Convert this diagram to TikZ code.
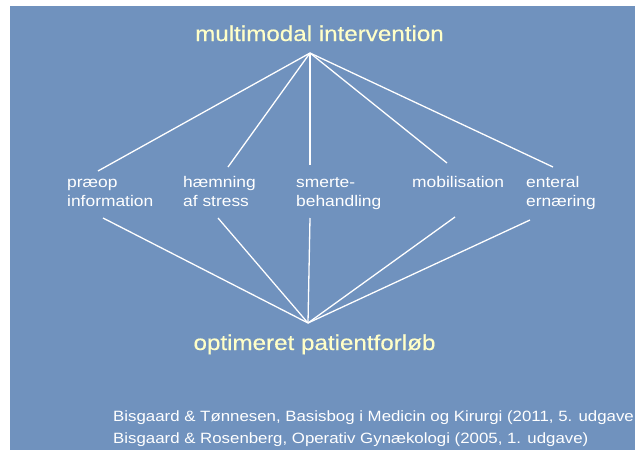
\documentclass[tikz,border=0pt]{standalone}
\usepackage{fontspec}
\setmainfont{Liberation Sans}
\newfontfamily\dfont[FakeStretch=1.13]{Liberation Sans}
\newfontfamily\hfont[FakeStretch=1.13,FakeBold=0.4]{Liberation Sans}
\definecolor{bgblue}{RGB}{112,146,190}
\definecolor{titleyellow}{RGB}{255,255,200}
\begin{document}
\begin{tikzpicture}[x=1pt,y=-1pt,
  titletext/.style={inner sep=0pt, anchor=base, text=titleyellow, font=\hfont\fontsize{21.4}{24}\selectfont},
  labeltext/.style={inner sep=0pt, anchor=north west, align=left, text=white, font=\dfont\fontsize{15.4}{19}\selectfont},
  citetext/.style={inner sep=0pt, anchor=base west, text=white, font=\dfont\fontsize{14.9}{22}\selectfont},
  link/.style={draw=white, line width=1.3pt}]
\useasboundingbox (0,0) rectangle (635,450);
\fill[white] (0,0) rectangle (635,450);
\fill[bgblue] (10,6) rectangle (635,450);
% titles
\node[titletext] (title) at (319.5,41) {multimodal intervention};
\node[titletext] (goal) at (314.5,350) {optimeret patientforløb};
% labels
\node[labeltext] (n1) at (67,174) {\strut præop\\information};
\node[labeltext] (n2) at (183,174) {\strut hæmning\\af stress};
\node[labeltext] (n3) at (296,174) {\strut smerte-\\behandling};
\node[labeltext] (n4) at (412,174) {\strut mobilisation};
\node[labeltext] (n5) at (526,174) {\strut enteral\\ernæring};
% citations
\node[citetext] (c1) at (113,421) {Bisgaard \& Tønnesen, Basisbog i Medicin og Kirurgi (2011, 5. udgave};
\node[citetext] (c2) at (113,443) {Bisgaard \& Rosenberg, Operativ Gynækologi (2005, 1. udgave)};
% apexes and end points
\coordinate (ta) at (310,53);
\coordinate (ba) at (308,323);
\coordinate (t1) at (98,171);
\coordinate (t2) at (228,167);
\coordinate (t3) at (310,165);
\coordinate (t4) at (447,163);
\coordinate (t5) at (553,167);
\coordinate (b1) at (103,218);
\coordinate (b2) at (218,218);
\coordinate (b3) at (310,218);
\coordinate (b4) at (455,217);
\coordinate (b5) at (530,220);
\foreach \i in {1,...,5} {
  \draw[link] (ta) -- (t\i);
  \draw[link] (ba) -- (b\i);
}
\end{tikzpicture}
\end{document}
